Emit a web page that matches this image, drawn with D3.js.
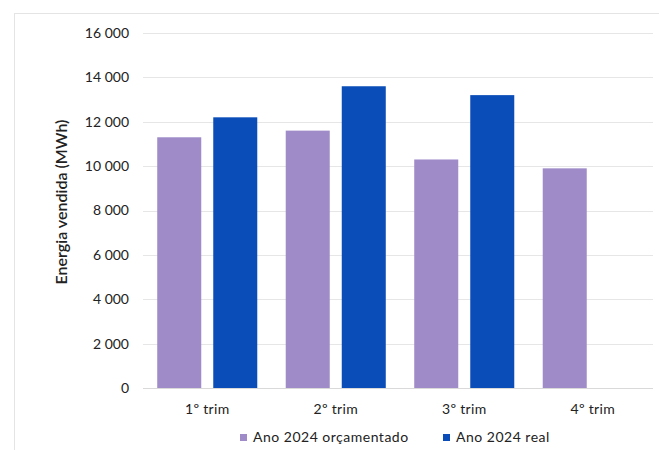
<!DOCTYPE html>
<html>
<head>
<meta charset="utf-8">
<script src="https://cdn.jsdelivr.net/npm/d3@7"></script>
<style>
  html, body { margin: 0; padding: 0; background: #ffffff; }
  svg { display: block; }
  text { font-family: Lato, "Open Sans", sans-serif; fill: #222; }
</style>
</head>
<body>
<svg id="chart" width="659" height="450"></svg>
<script>
// Energia vendida por trimestre (MWh)
const categories = ["1º trim", "2º trim", "3º trim", "4º trim"];
const seriesNames = ["Ano 2024 orçamentado", "Ano 2024 real"];
const orcamentado = [11300, 11600, 10300, 9900];
const real = [12200, 13600, 13200, null];
const yTicks = [0, 2000, 4000, 6000, 8000, 10000, 12000, 14000, 16000];
const colors = ["#9f8bc8", "#0b4db8"];

const seriesValues = [orcamentado, real];

const svg = d3.select("#chart");

// outer frame of the chart object
svg.append("rect")
  .attr("x", 14.5).attr("y", 13.5)
  .attr("width", 700).attr("height", 500)
  .attr("fill", "none").attr("stroke", "#e4e4e4");

const plot = { left: 143, right: 657, top: 33, bottom: 388 };

const x0 = d3.scaleBand().domain(categories).range([plot.left, plot.right]);
const x1 = d3.scaleBand().domain(seriesNames)
  .range([0, x0.bandwidth()])
  .paddingInner(0.2143).paddingOuter(0.254);
const y = d3.scaleLinear().domain([0, 16000]).range([plot.bottom, plot.top]);

// gridlines
svg.append("g")
  .selectAll("line")
  .data(yTicks)
  .join("line")
  .attr("x1", plot.left).attr("x2", 653)
  .attr("y1", d => Math.round(y(d)) + 0.5)
  .attr("y2", d => Math.round(y(d)) + 0.5)
  .attr("stroke", d => d === 0 ? "#d9d9d9" : "#e6e6e6")
  .attr("stroke-width", 1);

// y axis labels
const yAxis = d3.axisLeft(y).tickValues(yTicks).tickSize(0).tickPadding(0)
  .tickFormat(d => d3.format(",")(d).replace(/,/g, " "));
const yg = svg.append("g").attr("transform", `translate(${plot.left - 14},0)`).call(yAxis);
yg.select(".domain").remove();
yg.selectAll("text")
  .attr("font-size", 14).attr("fill", "#222")
  .style("font-family", "Lato, sans-serif");

// bars
const groups = svg.append("g")
  .selectAll("g")
  .data(categories.map((c, i) => ({ c, vals: seriesNames.map((s, j) => ({ s, j, v: seriesValues[j][i] })) })))
  .join("g")
  .attr("transform", d => `translate(${x0(d.c)},0)`);

groups.selectAll("rect")
  .data(d => d.vals.filter(e => e.v != null))
  .join("rect")
  .attr("x", d => x1(d.s))
  .attr("width", x1.bandwidth())
  .attr("y", d => y(d.v))
  .attr("height", d => y(0) - y(d.v))
  .attr("fill", d => colors[d.j]);

// x axis labels
const xAxis = d3.axisBottom(x0).tickSize(0).tickPadding(0);
const xg = svg.append("g").attr("transform", `translate(0,${plot.bottom + 26})`).call(xAxis);
xg.select(".domain").remove();
xg.selectAll("text")
  .attr("font-size", 14).attr("fill", "#222").attr("dy", 0)
  .style("letter-spacing", "0.3px")
  .style("font-family", "Lato, sans-serif");

// y axis title
svg.append("text")
  .attr("transform", "translate(67,202) rotate(-90)")
  .attr("text-anchor", "middle")
  .attr("font-size", 16)
  .attr("font-weight", 600)
  .text("Energia vendida (MWh)");

// legend
const legendItems = [
  { name: seriesNames[0], color: colors[0], x: 240 },
  { name: seriesNames[1], color: colors[1], x: 443 }
];
const lg = svg.append("g").selectAll("g").data(legendItems).join("g")
  .attr("transform", d => `translate(${d.x},438)`);
lg.append("rect").attr("x", 0).attr("y", -4).attr("width", 7).attr("height", 7)
  .attr("fill", d => d.color);
lg.append("text").attr("x", 13).attr("y", 0).attr("dy", "0.32em")
  .attr("font-size", 14).attr("fill", "#222")
  .style("letter-spacing", "0.5px")
  .text(d => d.name);
</script>
</body>
</html>
